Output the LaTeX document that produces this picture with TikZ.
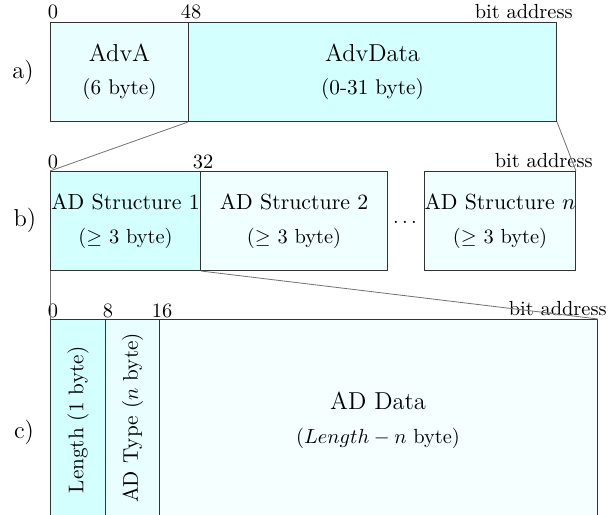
\documentclass[tikz,border=0pt]{standalone}
\begin{document}
\def\pxu{0.49pt}
\definecolor{cDark}{RGB}{212,255,255}
\definecolor{cMid}{RGB}{233,255,255}
\definecolor{cLight}{RGB}{240,255,255}
\definecolor{cPale}{RGB}{245,255,255}
\begin{tikzpicture}[x=0.49pt,y=-0.49pt,
  field/.style={draw=black!80, line width=0.5pt, inner sep=0pt, anchor=north west, align=center},
  tick/.style={inner sep=0pt, anchor=base},
  addr/.style={inner sep=0pt, anchor=base east},
  rowlab/.style={inner sep=0pt, font=\large},
  link/.style={draw=black!55, line width=0.4pt}]
\useasboundingbox (0,0) rectangle (614,515);
\clip (0,0) rectangle (614,515);
% row a
\node[field, fill=cMid, minimum width=138*\pxu, minimum height=99*\pxu] (advA) at (50,22) {{\large AdvA}\\[4pt]{\fontsize{10.4}{12.5}\selectfont(6 byte)}};
\node[field, fill=cDark, minimum width=368*\pxu, minimum height=99*\pxu] (advData) at (188,22) {{\large AdvData}\\[4pt]{\fontsize{10.4}{12.5}\selectfont(0-31 byte)}};
\node[tick] (a0) at (53,19) {0};
\node[tick] (a48) at (191,19) {48};
\node[addr] (aaddr) at (573,19) {bit address};
\node[rowlab] (la) at (23,72) {a)};
% row b
\node[field, fill=cDark, minimum width=150*\pxu, minimum height=99*\pxu] (s1) at (50,171) {{\fontsize{10.7}{12.8}\selectfont AD Structure 1}\\[4.5pt]($\geq$ 3 byte)};
\node[field, fill=cLight, minimum width=187*\pxu, minimum height=99*\pxu] (s2) at (200,171) {{\fontsize{10.7}{12.8}\selectfont AD Structure 2}\\[4.5pt]($\geq$ 3 byte)};
\node[inner sep=0pt, anchor=base] (dots) at (405,223) {$\dots$};
\node[field, fill=cLight, minimum width=150*\pxu, minimum height=99*\pxu] (sn) at (424,171) {{\fontsize{10.7}{12.8}\selectfont AD Structure $n$}\\[4.5pt]($\geq$ 3 byte)};
\node[tick] (b0) at (53,168) {0};
\node[tick] (b32) at (203,168) {32};
\node[addr] (baddr) at (593,167) {bit address};
\node[rowlab] (lb) at (25,220) {b)};
% row c
\node[field, fill=cDark, minimum width=55*\pxu, minimum height=226*\pxu] (len) at (50,319) {};
\node[field, fill=cMid, minimum width=54*\pxu, minimum height=226*\pxu] (typ) at (105,319) {};
\node[field, fill=cPale, minimum width=438*\pxu, minimum height=226*\pxu] (data) at (159,319) {};
\node[rotate=90, inner sep=0pt, font=\fontsize{10.4}{12.5}\selectfont] (lent) at (78,420) {Length (1 byte)};
\node[rotate=90, inner sep=0pt, font=\fontsize{10.4}{12.5}\selectfont] (typt) at (132.5,418) {AD Type ($n$ byte)};
\node[inner sep=0pt, align=center] (datat) at (378,420) {{\large AD Data}\\[4.5pt]($Length-n$ byte)};
\node[tick] (c0) at (53,317) {0};
\node[tick] (c8) at (108,317) {8};
\node[tick] (c16) at (162,317) {16};
\node[addr] (caddr) at (607,315) {bit address};
\node[rowlab] (lc) at (24,432) {c)};
% connectors
\draw[link] (advData.south west) -- (s1.north west);
\draw[link] (advData.south east) -- (sn.north east);
\draw[link] (s1.south west) -- (len.north west);
\draw[link] (s1.south east) -- (data.north east);
\end{tikzpicture}
\end{document}
